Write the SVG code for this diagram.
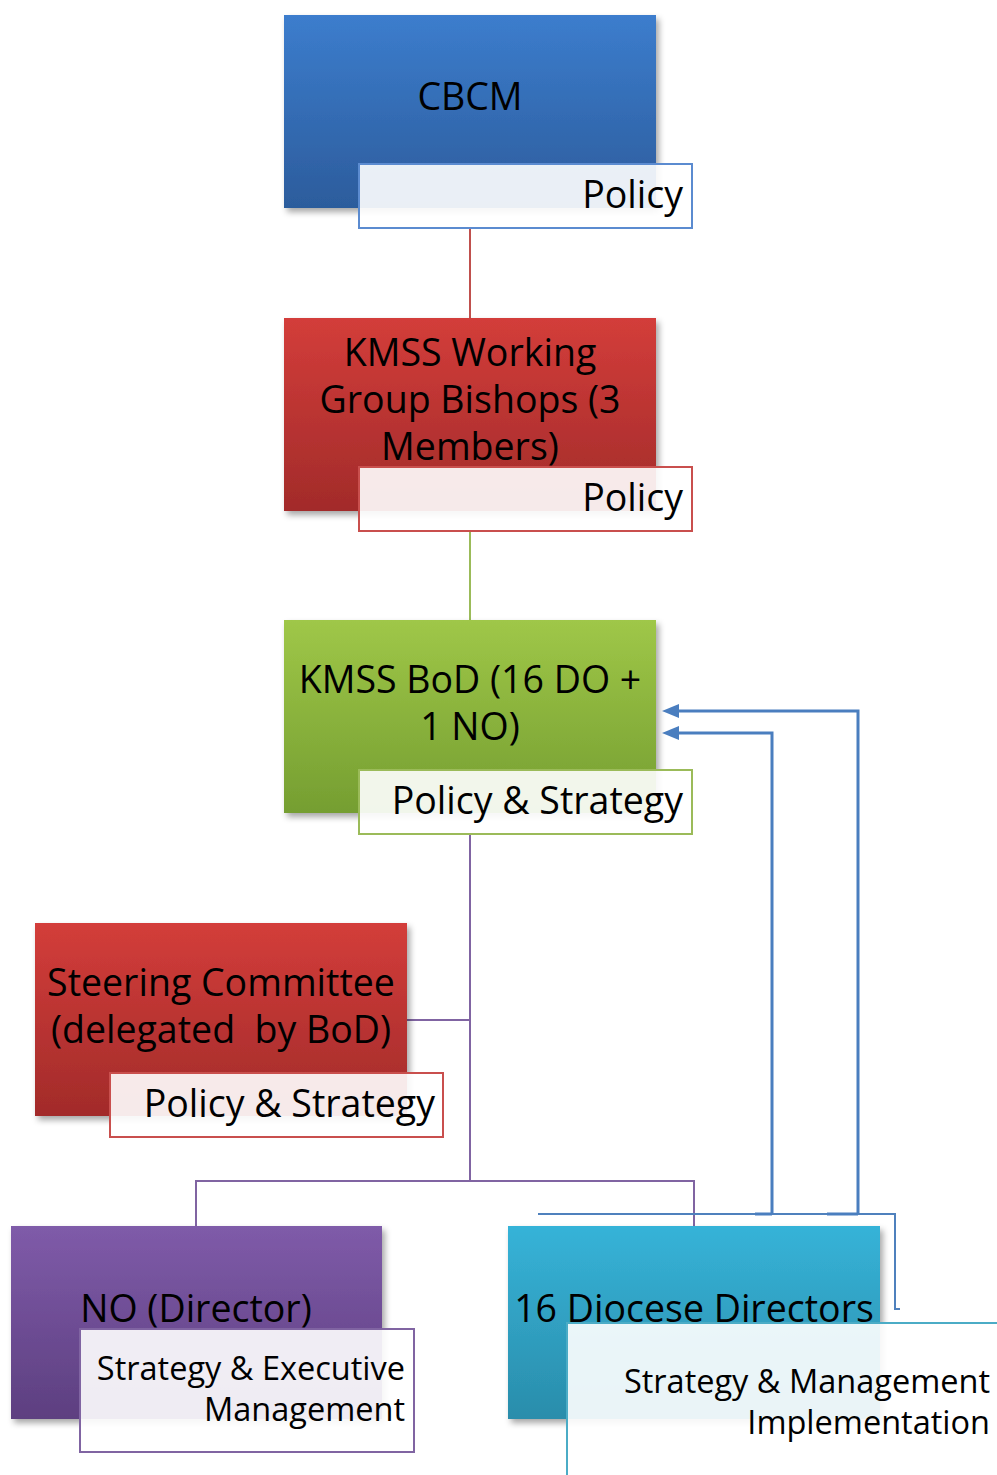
<svg xmlns="http://www.w3.org/2000/svg" width="997" height="1475" viewBox="0 0 997 1475">
<style>
.t{font-family:"Open Sans","Liberation Sans",sans-serif;font-size:37.5px;fill:#000}
.s{font-family:"Open Sans","Liberation Sans",sans-serif;font-size:32.5px;fill:#000}
.lab{fill:#fff;fill-opacity:0.9;stroke-width:2}
.c{fill:none;stroke-width:2}
.b{fill:none;stroke:#4a7ebf;stroke-width:3}
</style>
<defs>
<linearGradient id="gB" x1="0" y1="0" x2="0" y2="1"><stop offset="0" stop-color="#3c7dcd"/><stop offset="1" stop-color="#2c5c9c"/></linearGradient>
<linearGradient id="gR" x1="0" y1="0" x2="0" y2="1"><stop offset="0" stop-color="#d33d3a"/><stop offset="1" stop-color="#a22b2a"/></linearGradient>
<linearGradient id="gG" x1="0" y1="0" x2="0" y2="1"><stop offset="0" stop-color="#9fc748"/><stop offset="1" stop-color="#759e31"/></linearGradient>
<linearGradient id="gP" x1="0" y1="0" x2="0" y2="1"><stop offset="0" stop-color="#7f5ba9"/><stop offset="1" stop-color="#5d3f80"/></linearGradient>
<linearGradient id="gC" x1="0" y1="0" x2="0" y2="1"><stop offset="0" stop-color="#36b3d8"/><stop offset="1" stop-color="#2a8dab"/></linearGradient>
<filter id="sh" x="-10%" y="-10%" width="125%" height="125%"><feDropShadow dx="3" dy="4" stdDeviation="3" flood-color="#000" flood-opacity="0.35"/></filter>
<marker id="ar" viewBox="0 0 17 14" refX="2" refY="7" markerWidth="17" markerHeight="14" markerUnits="userSpaceOnUse" orient="auto"><path d="M0,0 L17,7 L0,14 z" fill="#4a7ebf"/></marker>
</defs>
<g id="connectors">
<line class="c" x1="470" y1="228" x2="470" y2="318" stroke="#c0504d"/>
<line class="c" x1="470" y1="531" x2="470" y2="620" stroke="#9bbb59"/>
<path class="c" d="M470,834 V1181 M407,1020 H470 M196,1226 V1181 H694 V1226" stroke="#8064a2"/>
<path class="c" d="M538,1214 H895 V1309 H900" stroke="#4f81bd"/>
<path class="b" d="M772,1214 V733 H677" marker-end="url(#ar)"/>
<path class="b" d="M858,1214 V711 H677" marker-end="url(#ar)"/>
<path class="b" d="M755,1214 H772 M827,1214 H858"/>
</g>
<g id="cbcm">
<rect x="284" y="15" width="372" height="193" fill="url(#gB)" filter="url(#sh)"/>
<text class="t" x="470" y="110" text-anchor="middle">CBCM</text>
<rect class="lab" x="359" y="164" width="333" height="64" stroke="#5b8bd0"/>
<text class="t" x="683" y="208" text-anchor="end">Policy</text>
</g>
<g id="kmss-wg">
<rect x="284" y="318" width="372" height="193" fill="url(#gR)" filter="url(#sh)"/>
<text class="t" text-anchor="middle"><tspan x="470" y="366">KMSS Working</tspan><tspan x="470" y="413">Group Bishops (3</tspan><tspan x="470" y="460">Members)</tspan></text>
<rect class="lab" x="359" y="467" width="333" height="64" stroke="#c94f4d"/>
<text class="t" x="683" y="511" text-anchor="end">Policy</text>
</g>
<g id="kmss-bod">
<rect x="284" y="620" width="372" height="193" fill="url(#gG)" filter="url(#sh)"/>
<text class="t" text-anchor="middle"><tspan x="470" y="693">KMSS BoD (16 DO +</tspan><tspan x="470" y="740">1 NO)</tspan></text>
<rect class="lab" x="359" y="770" width="333" height="64" stroke="#9bbb59"/>
<text class="t" x="683" y="814" text-anchor="end">Policy &amp; Strategy</text>
</g>
<g id="steering">
<rect x="35" y="923" width="372" height="193" fill="url(#gR)" filter="url(#sh)"/>
<text class="t" text-anchor="middle" xml:space="preserve"><tspan x="221" y="996">Steering Committee</tspan><tspan x="221" y="1043">(delegated  by BoD)</tspan></text>
<rect class="lab" x="110" y="1073" width="333" height="64" stroke="#c94f4d"/>
<text class="t" x="435" y="1117" text-anchor="end">Policy &amp; Strategy</text>
</g>
<g id="no-director">
<rect x="11" y="1226" width="371" height="193" fill="url(#gP)" filter="url(#sh)"/>
<text class="t" x="196" y="1322" text-anchor="middle">NO (Director)</text>
<rect class="lab" x="80" y="1329" width="334" height="123" stroke="#8064a2"/>
<text class="s" text-anchor="end"><tspan x="405" y="1380">Strategy &amp; Executive</tspan><tspan x="405" y="1421">Management</tspan></text>
</g>
<g id="diocese">
<rect x="508" y="1226" width="372" height="193" fill="url(#gC)" filter="url(#sh)"/>
<text class="t" x="694" y="1322" text-anchor="middle">16 Diocese Directors</text>
<rect class="lab" x="567" y="1323" width="440" height="160" stroke="#4bacc6"/>
<text class="s" text-anchor="end"><tspan x="990" y="1393">Strategy &amp; Management</tspan><tspan x="990" y="1434">Implementation</tspan></text>
</g>
</svg>
